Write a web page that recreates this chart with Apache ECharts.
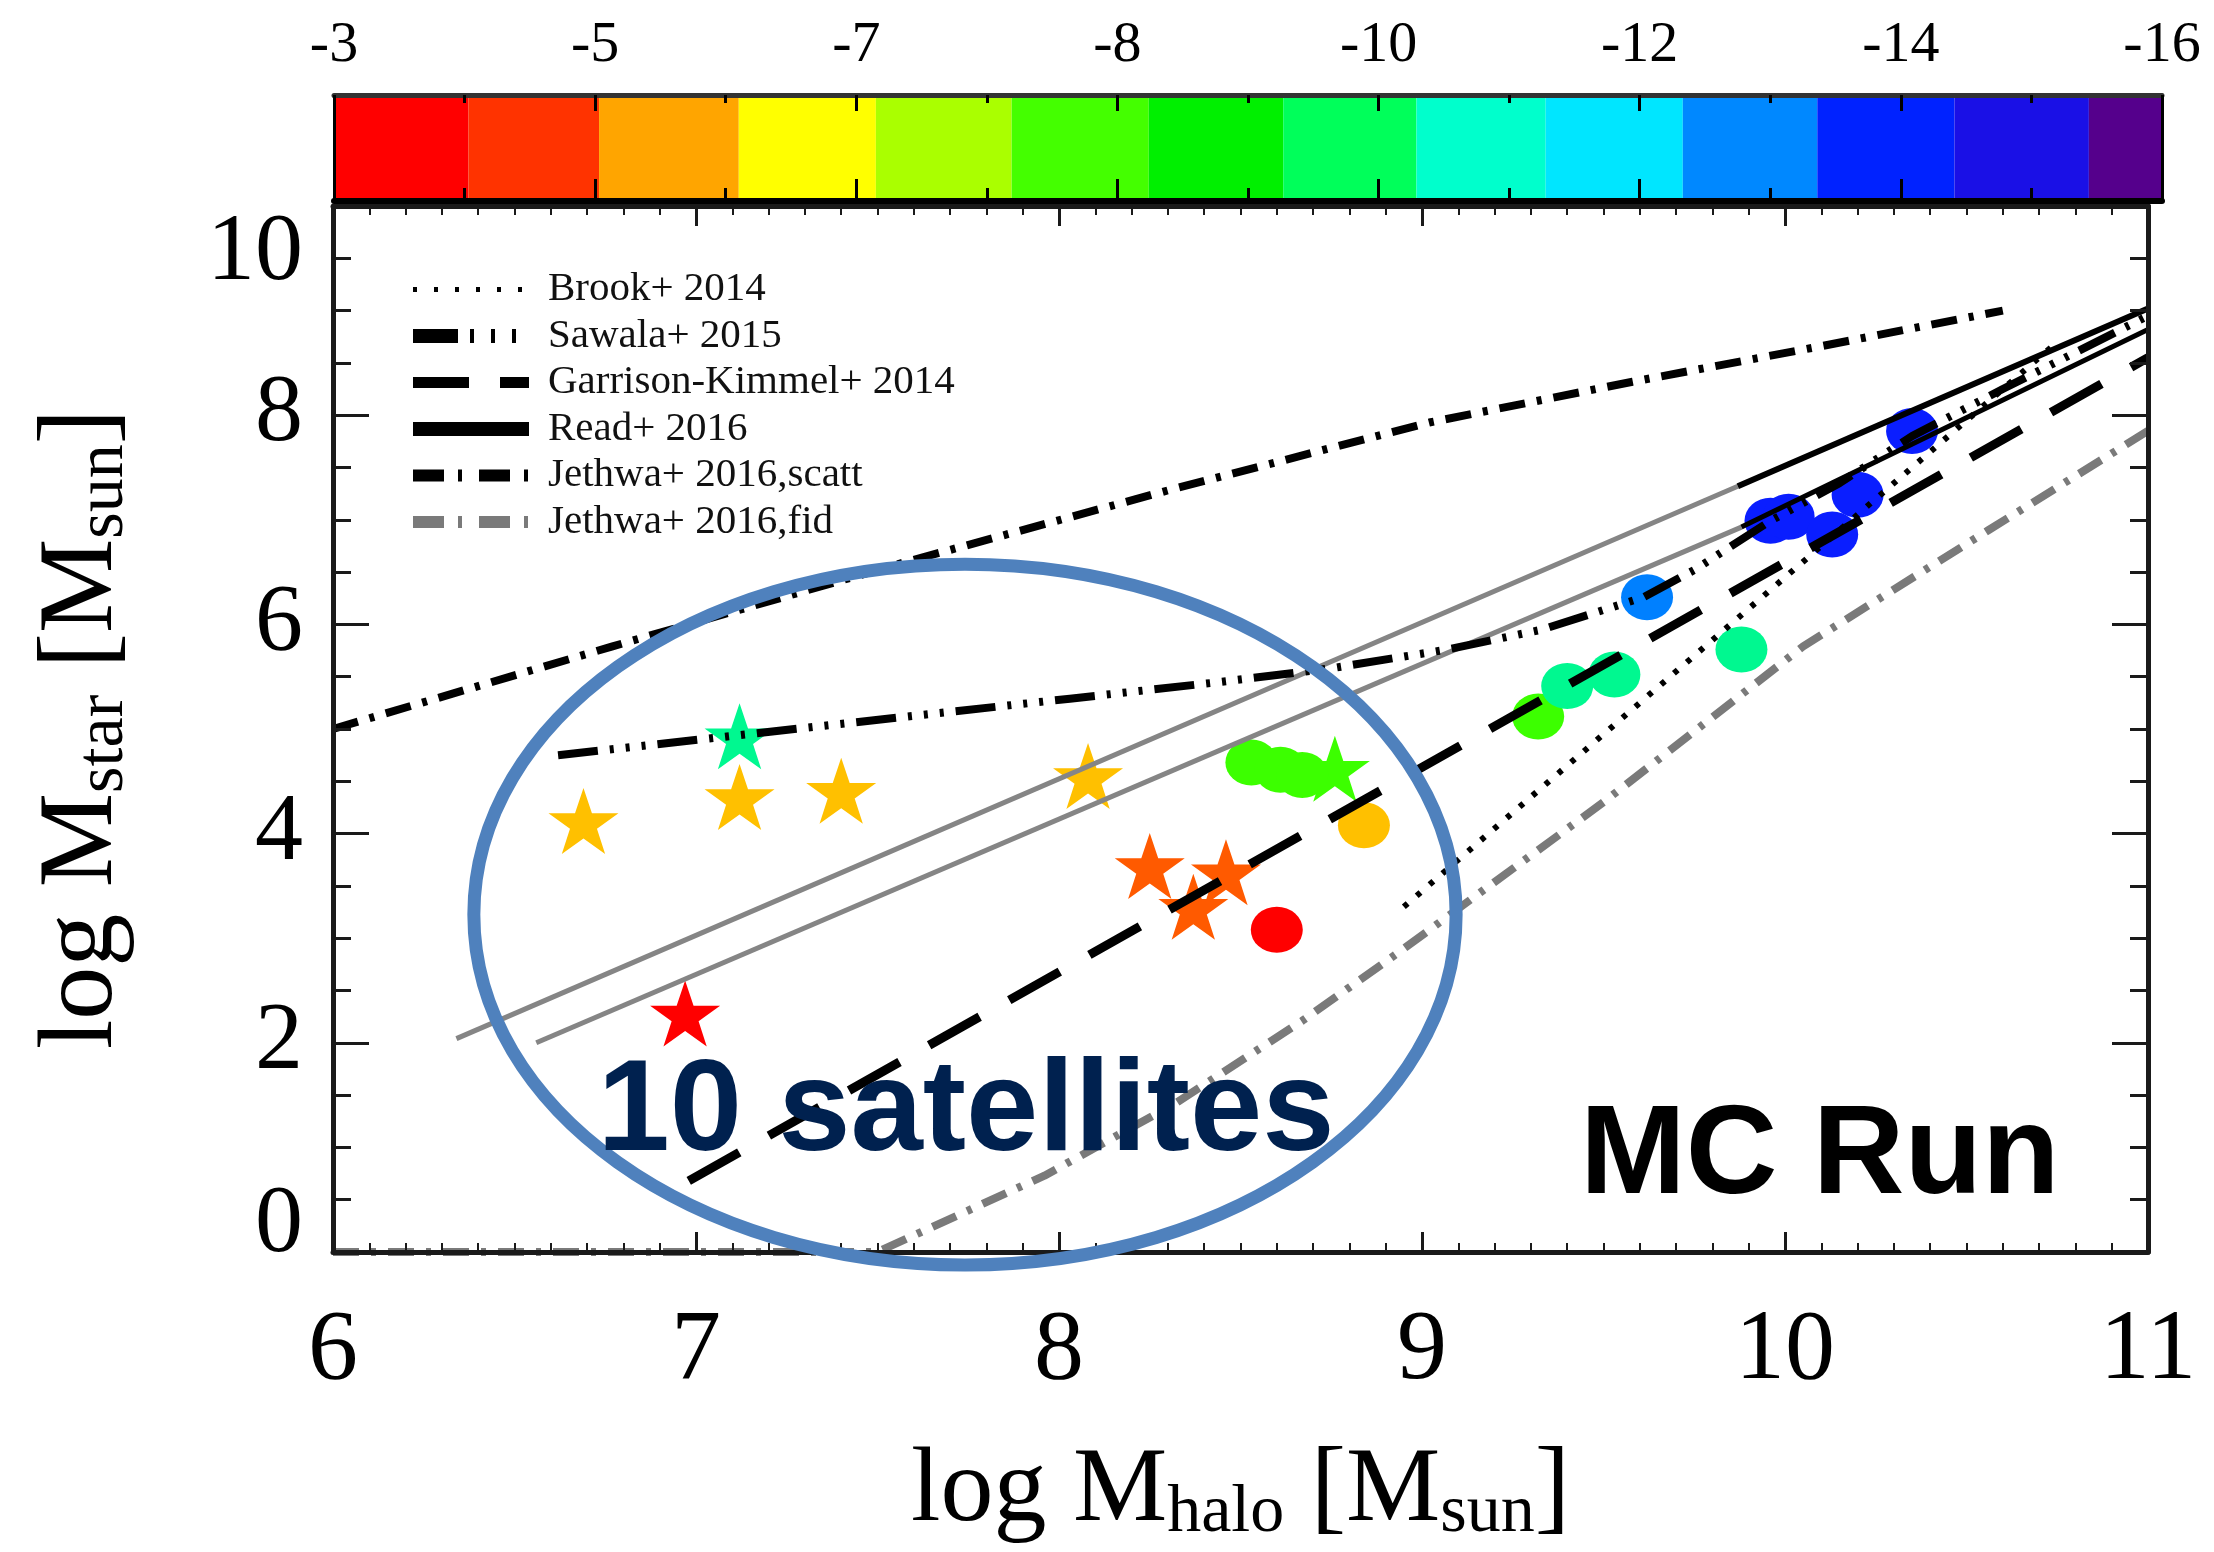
<!DOCTYPE html>
<html><head><meta charset="utf-8">
<script src="https://cdn.jsdelivr.net/npm/echarts@6/dist/echarts.min.js"></script>
<style>html,body{margin:0;padding:0;background:#fff}#c{width:2214px;height:1552px}</style>
</head><body><div id="c"></div>
<script>
// ---------------- data ----------------
const xTicks = [6, 7, 8, 9, 10, 11];
const xTickLabels = ['6', '7', '8', '9', '10', '11'];
const yTicks = [0, 2, 4, 6, 8, 10];
const yTickLabels = ['0', '2', '4', '6', '8', '10'];

// colour bar (magnitude scale), positions in colour-bar units 0..14
const colorbarTicks = [0, 2, 4, 6, 8, 10, 12, 14];
const colorbarLabels = ['-3', '-5', '-7', '-8', '-10', '-12', '-14', '-16'];
const colorbarEdges = [0, 1.03, 2.03, 3.1, 4.15, 5.19, 6.24, 7.27, 8.29, 9.28, 10.33, 11.36, 12.41, 13.44, 14];
const colorbarColors = ['#FF0000', '#FF3300', '#FFA500', '#FFFF00', '#AAFF00', '#44FF00', '#00F000',
  '#00FF5A', '#00FFCC', '#00E6FF', '#0088FF', '#0022FF', '#1A10E6', '#55008C'];

// satellites (stars) : log Mhalo, log Mstar, colour-bar bin
const starX = [6.69, 7.12, 7.12, 7.40, 8.08, 6.97, 8.25, 8.37, 8.46, 8.76];
const starY = [4.12, 4.35, 4.93, 4.41, 4.55, 2.28, 3.69, 3.30, 3.63, 4.62];
const starBin = [2, 2, 8, 2, 2, 0, 1, 1, 1, 5];

// other galaxies (circles)
const circleX = [8.53, 8.61, 8.67, 8.84, 8.60, 9.32, 9.40, 9.53, 9.88, 9.62, 9.96, 10.01, 10.13, 10.20, 10.35];
const circleY = [4.68, 4.61, 4.56, 4.08, 3.08, 5.12, 5.41, 5.52, 5.76, 6.26, 6.99, 7.03, 6.86, 7.24, 7.85];
const circleBin = [5, 5, 5, 2, 0, 5, 8, 8, 8, 10, 11, 11, 11, 11, 11];

// relations
const brookX = [8.95, 10.75];
const brookY = [3.30, 8.70];
const sawalaX = [6.62, 7.35, 8.03, 8.42, 8.75, 9.07, 9.33, 9.61, 9.75, 9.96, 10.15, 10.35, 10.6, 11.0];
const sawalaY = [4.75, 5.03, 5.29, 5.44, 5.58, 5.76, 5.95, 6.26, 6.52, 6.99, 7.35, 7.80, 8.25, 8.95];
const gkX = [6.98, 11.0];
const gkY = [0.68, 8.55];
const readUpperX = [9.87, 11.0];
const readUpperY = [7.32, 9.02];
const readLowerX = [9.88, 11.0];
const readLowerY = [6.93, 8.82];
const readExtUpperX = [6.34, 9.87];
const readExtUpperY = [2.04, 7.32];
const readExtLowerX = [6.56, 9.88];
const readExtLowerY = [2.00, 6.93];
const scattX = [6.0, 6.77, 7.55, 8.32, 9.02, 9.58, 10.1, 10.6];
const scattY = [5.00, 5.79, 6.57, 7.30, 7.93, 8.32, 8.66, 9.00];
const fidX = [6.0, 7.5, 7.96, 8.32, 8.67, 8.93, 9.5, 10.05, 10.56, 11.0];
const fidY = [0, 0, 0.73, 1.42, 2.21, 2.85, 4.30, 5.79, 6.90, 7.85];

const legendNames = ['Brook+ 2014', 'Sawala+ 2015', 'Garrison-Kimmel+ 2014', 'Read+ 2016', 'Jethwa+ 2016,scatt', 'Jethwa+ 2016,fid'];

// annotation (data coordinates)
const annot = { cx: 7.741, cy: 3.226, rx: 1.353, ry: 3.35, textX: 7.744, textY: 1.32, runX: 10.096, runY: 0.90 };

// ---------------- styles ----------------
const pointColorByBin = { 0: '#FF0000', 1: '#FF5A00', 2: '#FFC000', 5: '#3CFF00', 8: '#00F890', 10: '#0080FF', 11: '#0A1EFF' };
function binColor(b) { return pointColorByBin[b] || colorbarColors[b]; }
const zip = (xs, ys) => xs.map((x, i) => [x, ys[i]]);
const STAR = 'path://M50,0 L61.8,35.1 L98.8,35.1 L68.8,56.8 L80.2,91.9 L50,70.2 L19.8,91.9 L31.2,56.8 L1.2,35.1 L38.2,35.1 Z';
const SERIF = 'Liberation Serif';
const FRAME = '#1a1a1a';

// line styles per relation: [colour, width, dash]
const lineStyles = {
  'Brook+ 2014': ['#000', 6, [5, 12]],
  'Sawala+ 2015': ['#000', 8, [40, 12, 4, 12, 4, 12, 4, 12]],
  'Garrison-Kimmel+ 2014': ['#000', 9, [58, 34]],
  'Read+ 2016': ['#000', 6, 'solid'],
  'Jethwa+ 2016,scatt': ['#000', 8, [26, 12, 5, 12]],
  'Jethwa+ 2016,fid': ['#7a7a7a', 8, [26, 12, 5, 12]]
};
const legendLineStyles = {
  'Brook+ 2014': ['#000', 5, [4, 17]],
  'Sawala+ 2015': ['#000', 14, [45, 12, 4, 17, 4, 17, 4, 20]],
  'Garrison-Kimmel+ 2014': ['#000', 11, [56, 31]],
  'Read+ 2016': ['#000', 14, 'solid'],
  'Jethwa+ 2016,scatt': ['#000', 12, [31, 14, 4, 17]],
  'Jethwa+ 2016,fid': ['#7a7a7a', 12, [31, 14, 4, 17]]
};

const chart = echarts.init(document.getElementById('c'), null, { renderer: 'canvas' });

function frameAxis(extra) {
  return Object.assign({
    type: 'value', splitLine: { show: false }, z: 5,
    axisLine: { show: true, onZero: false, lineStyle: { color: FRAME, width: 5 } }
  }, extra);
}
const nameRich = {
  a: { fontFamily: SERIF, fontSize: 106, color: '#000', lineHeight: 110 },
  b: { fontFamily: SERIF, fontSize: 68, color: '#000', lineHeight: 50, verticalAlign: 'bottom' }
};

const lineSeries = (name, xs, ys, st) => ({
  name, type: 'line', xAxisIndex: 0, yAxisIndex: 0, data: zip(xs, ys), symbol: 'none', silent: true,
  lineStyle: { color: st[0], width: st[1], type: st[2], cap: 'butt' }, itemStyle: { color: st[0] }
});

const option = {
  animation: false,
  backgroundColor: '#fff',
  grid: [
    { left: 333, right: 66, top: 206, bottom: 292 },
    { left: 334, right: 52, top: 95, bottom: 1351 }
  ],
  xAxis: [
    frameAxis({ gridIndex: 0, position: 'bottom', min: 6, max: 11, interval: 1,
      axisTick: { inside: true, length: 20, lineStyle: { width: 3, color: FRAME } },
      minorTick: { show: true, splitNumber: 10, length: 9, lineStyle: { width: 2, color: FRAME } },
      axisLabel: { fontFamily: SERIF, fontSize: 100, color: '#000', margin: 50,
        formatter: v => { const i = xTicks.indexOf(v); return i < 0 ? '' : xTickLabels[i]; } },
      name: '{a|log M}{b|halo}{a| [M}{b|sun}{a|]}', nameLocation: 'middle', nameGap: 185,
      nameTextStyle: { rich: nameRich } }),
    frameAxis({ gridIndex: 0, position: 'top', min: 6, max: 11, interval: 1,
      axisTick: { inside: true, length: 20, lineStyle: { width: 3, color: FRAME } },
      minorTick: { show: true, splitNumber: 10, length: 9, lineStyle: { width: 2, color: FRAME } },
      axisLabel: { show: false } }),
    frameAxis({ gridIndex: 1, position: 'bottom', min: 0, max: 14, interval: 2,
      axisLine: { show: true, onZero: false, lineStyle: { color: '#000', width: 6 } },
      axisTick: { inside: true, length: 22, lineStyle: { width: 3, color: '#000' } },
      minorTick: { show: true, splitNumber: 2, length: 13, lineStyle: { width: 3, color: '#000' } },
      axisLabel: { show: false } }),
    frameAxis({ gridIndex: 1, position: 'top', min: 0, max: 14, interval: 2,
      axisLine: { show: true, onZero: false, lineStyle: { color: '#333', width: 5 } },
      axisTick: { inside: true, length: 16, lineStyle: { width: 3, color: '#000' } },
      minorTick: { show: true, splitNumber: 2, length: 8, lineStyle: { width: 3, color: '#000' } },
      axisLabel: { fontFamily: SERIF, fontSize: 58, color: '#000', margin: 20,
        formatter: v => { const i = colorbarTicks.indexOf(v); return i < 0 ? '' : colorbarLabels[i]; } } })
  ],
  yAxis: [
    frameAxis({ gridIndex: 0, position: 'left', min: 0, max: 10, interval: 2,
      axisTick: { inside: true, length: 36, lineStyle: { width: 3, color: FRAME } },
      minorTick: { show: true, splitNumber: 4, length: 18, lineStyle: { width: 3, color: FRAME } },
      axisLabel: { fontFamily: SERIF, fontSize: 96, color: '#000', margin: 30,
        verticalAlignMinLabel: 'bottom', verticalAlignMaxLabel: 'top',
        rich: { low: { fontFamily: SERIF, fontSize: 96, color: '#000', lineHeight: 52 } },
        formatter: v => {
          const i = yTicks.indexOf(v);
          if (i < 0) return '';
          return i === 0 ? '{low|' + yTickLabels[i] + '}' : yTickLabels[i];
        } },
      name: '{a|log M}{b|star}{a| [M}{b|sun}{a|]}', nameLocation: 'middle', nameGap: 195, nameRotate: 90,
      nameTextStyle: { rich: nameRich } }),
    frameAxis({ gridIndex: 0, position: 'right', min: 0, max: 10, interval: 2,
      axisTick: { inside: true, length: 36, lineStyle: { width: 3, color: FRAME } },
      minorTick: { show: true, splitNumber: 4, length: 18, lineStyle: { width: 3, color: FRAME } },
      axisLabel: { show: false } }),
    frameAxis({ gridIndex: 1, position: 'left', min: 0, max: 1,
      axisLine: { show: true, onZero: false, lineStyle: { color: '#000', width: 3 } },
      axisTick: { show: false }, axisLabel: { show: false } }),
    frameAxis({ gridIndex: 1, position: 'right', min: 0, max: 1,
      axisLine: { show: true, onZero: false, lineStyle: { color: '#000', width: 3 } },
      axisTick: { show: false }, axisLabel: { show: false } })
  ],
  legend: {
    data: legendNames.map(n => ({
      name: n,
      itemStyle: { opacity: 0 },
      lineStyle: { color: legendLineStyles[n][0], width: legendLineStyles[n][1], type: legendLineStyles[n][2], cap: 'butt', opacity: 1 }
    })),
    orient: 'vertical', left: 401, top: 264,
    itemWidth: 116, itemHeight: 20, itemGap: 5.5, selectedMode: false,
    textStyle: { fontFamily: SERIF, fontSize: 41, color: '#111', padding: [0, 0, 0, 14], lineHeight: 38 }
  },
  series: [
    { type: 'custom', xAxisIndex: 2, yAxisIndex: 2, silent: true, z: 1,
      data: colorbarColors.map((c, i) => [colorbarEdges[i], colorbarEdges[i + 1], i]),
      renderItem: (params, api) => {
        const p0 = api.coord([api.value(0), 1]);
        const p1 = api.coord([api.value(1), 0]);
        return { type: 'rect', shape: { x: p0[0], y: p0[1], width: p1[0] - p0[0], height: p1[1] - p0[1] },
          style: { fill: colorbarColors[api.value(2)] } };
      } },
    { name: 'satellites', type: 'scatter', xAxisIndex: 0, yAxisIndex: 0, silent: true,
      data: starX.map((x, i) => [x, starY[i], starBin[i]]),
      symbol: STAR, symbolSize: [70, 66],
      itemStyle: { color: p => binColor(p.data[2]), opacity: 1 } },
    { name: 'galaxies', type: 'scatter', xAxisIndex: 0, yAxisIndex: 0, silent: true,
      data: circleX.map((x, i) => [x, circleY[i], circleBin[i]]),
      symbol: 'circle', symbolSize: [52, 46],
      itemStyle: { color: p => binColor(p.data[2]), opacity: 1 } },
    lineSeries('readExtUpper', readExtUpperX, readExtUpperY, ['#858585', 5, 'solid']),
    lineSeries('readExtLower', readExtLowerX, readExtLowerY, ['#858585', 5, 'solid']),
    lineSeries('Brook+ 2014', brookX, brookY, lineStyles['Brook+ 2014']),
    lineSeries('Sawala+ 2015', sawalaX, sawalaY, lineStyles['Sawala+ 2015']),
    lineSeries('Garrison-Kimmel+ 2014', gkX, gkY, lineStyles['Garrison-Kimmel+ 2014']),
    lineSeries('Read+ 2016', readUpperX, readUpperY, lineStyles['Read+ 2016']),
    lineSeries('readLower', readLowerX, readLowerY, ['#000', 5, 'solid']),
    lineSeries('Jethwa+ 2016,scatt', scattX, scattY, lineStyles['Jethwa+ 2016,scatt']),
    lineSeries('Jethwa+ 2016,fid', fidX, fidY, lineStyles['Jethwa+ 2016,fid'])
  ]
};
chart.setOption(option);

// annotation overlay positioned from data coordinates
const c0 = chart.convertToPixel({ gridIndex: 0 }, [annot.cx, annot.cy]);
const c1 = chart.convertToPixel({ gridIndex: 0 }, [annot.cx + annot.rx, annot.cy + annot.ry]);
const t0 = chart.convertToPixel({ gridIndex: 0 }, [annot.textX, annot.textY]);
const r0 = chart.convertToPixel({ gridIndex: 0 }, [annot.runX, annot.runY]);
chart.setOption({
  graphic: [
    { type: 'ellipse', z: 100, silent: true,
      shape: { cx: c0[0], cy: c0[1], rx: c1[0] - c0[0], ry: c0[1] - c1[1] },
      style: { fill: null, stroke: '#4f81bd', lineWidth: 13 } },
    { type: 'text', z: 101, silent: true,
      style: { text: '10 satellites', x: t0[0], y: t0[1], align: 'center', verticalAlign: 'middle',
        fontFamily: 'Liberation Sans', fontWeight: 'bold', fontSize: 130, fill: '#00214f' } },
    { type: 'text', z: 101, silent: true,
      style: { text: 'MC Run', x: r0[0], y: r0[1], align: 'center', verticalAlign: 'middle',
        fontFamily: 'Liberation Sans', fontWeight: 'bold', fontSize: 127, fill: '#000' } }
  ]
});
</script>
</body></html>
